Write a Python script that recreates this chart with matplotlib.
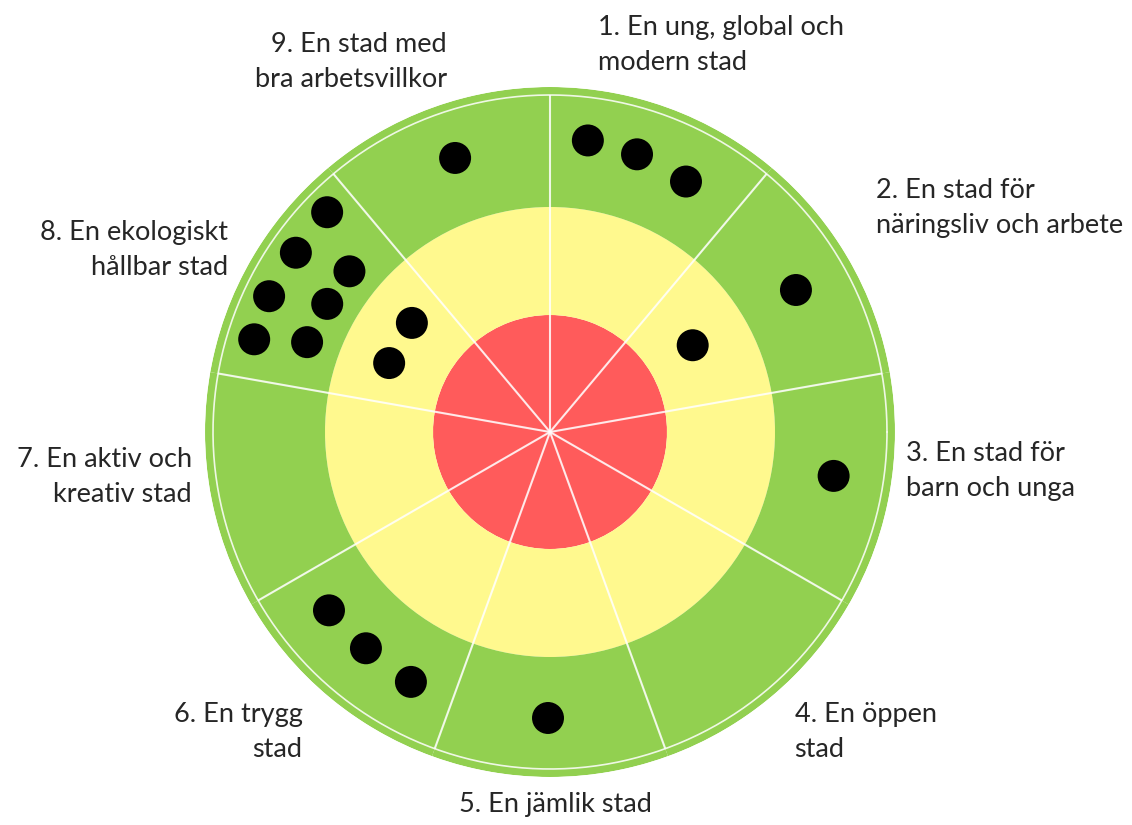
import numpy as np
import matplotlib
matplotlib.use("Agg")
import matplotlib.pyplot as plt

# ---- data ----
sector_labels = [
    "1. En ung, global och\nmodern stad",
    "2. En stad för\nnäringsliv och arbete",
    "3. En stad för\nbarn och unga",
    "4. En öppen\nstad",
    "5. En jämlik stad",
    "6. En trygg\nstad",
    "7. En aktiv och\nkreativ stad",
    "8. En ekologiskt\nhållbar stad",
    "9. En stad med\nbra arbetsvillkor",
]
# sector centres (degrees, counter-clockwise from east)
sector_centres = [70, 30, -10, -50, -90, -130, -170, 150, 110]
sector_width = 40

# dots: angle (deg) and radius (same units as ring radii)
dot_angle = [82.6, 72.6, 61.5,          # sector 1
             30.0, 31.3,                 # sector 2
             -8.8,                       # sector 3
             -90.4,                      # sector 5
             -141.1, -130.4, -119.1,     # sector 6
             135.4, 144.8, 141.3, 154.2, 150.1, 162.6, 159.7, 141.7, 156.8,  # sector 8
             109.1]                      # sector 9
dot_radius = [294, 291, 285,
              284, 167,
              287,
              286,
              284, 284, 286,
              313, 311, 257, 312, 257, 310, 259, 176, 175,
              290]

# label anchors (angle deg, radius, horizontal alignment)
label_angle = [82.9, 34.5, -6.25, -50.8, -89.1, -129.5, -172.8, 150.5, 105.6]
label_radius = [390, 395, 358, 387, 373, 389, 361, 370, 384]
label_ha = ["left", "left", "left", "left", "center", "right", "right", "right", "right"]

# rings: (inner, outer, colour)
ring_bounds = [0, 117, 225, 345]
ring_colors = ["#FF5B5B", "#FFF98E", "#92D050"]

# ---- figure ----
W, H, DPI = 1132, 825, 100
fig = plt.figure(figsize=(W / DPI, H / DPI), dpi=DPI)
cx, cy, R = 550, 432, 345
ax = fig.add_axes([(cx - R) / W, (H - cy - R) / H, 2 * R / W, 2 * R / H], projection="polar")
ax.set_ylim(0, R)
ax.set_axis_off()

theta = np.deg2rad(sector_centres)
for i, col in enumerate(ring_colors):
    ax.bar(theta, ring_bounds[i + 1] - ring_bounds[i], width=np.deg2rad(sector_width),
           bottom=ring_bounds[i], color=col, edgecolor="none", linewidth=0, zorder=1)

# white divider lines
for c in sector_centres:
    b = np.deg2rad(c + sector_width / 2)
    ax.plot([b, b], [0, 337], color="white", lw=1.5, alpha=0.85, zorder=2, solid_capstyle="butt")
circ = np.linspace(0, 2 * np.pi, 400)
ax.plot(circ, np.full_like(circ, 337), color="white", lw=1.2, alpha=0.85, zorder=2)

# dots
ax.scatter(np.deg2rad(dot_angle), dot_radius, s=530, color="black", edgecolors="none", zorder=3)

# labels
for lab, a, r, ha in zip(sector_labels, label_angle, label_radius, label_ha):
    ax.text(np.deg2rad(a), r, lab, ha=ha, va="center", multialignment=ha,
            fontsize=19.5, family="Lato", color="#262626", linespacing=1.5, clip_on=False)

fig.savefig("out.png", dpi=DPI, facecolor="white")
